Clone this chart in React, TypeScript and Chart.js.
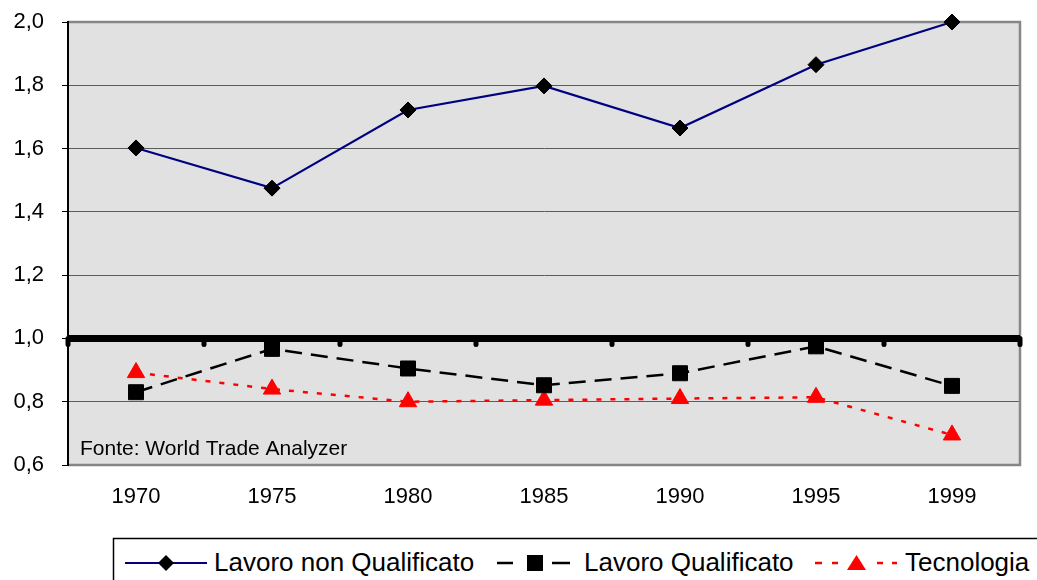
import React, { useEffect, useRef } from 'react';
import { Chart, registerables } from 'chart.js';

Chart.register(...registerables);

// ---- Data ----
const years = ['1970', '1975', '1980', '1985', '1990', '1995', '1999'];
const lavoroNonQualificato = [1.602, 1.475, 1.722, 1.798, 1.665, 1.865, 2.0];
const lavoroQualificato = [0.83, 0.967, 0.905, 0.852, 0.89, 0.975, 0.85];
const tecnologia = [0.892, 0.84, 0.8, 0.805, 0.81, 0.814, 0.695];
const seriesNames = ['Lavoro non Qualificato', 'Lavoro Qualificato', 'Tecnologia'];
const yMin = 0.6;
const yMax = 2.0;
const yStep = 0.2;
const referenceValue = 1.0;
const sourceNote = 'Fonte: World Trade Analyzer';

const FONT = '"Liberation Sans", Arial, Helvetica, sans-serif';
const W = 1037;
const H = 580;

const near = (a: number, b: number) => Math.abs(a - b) < 1e-6;

const decorPlugin = {
  id: 'plotDecor',
  beforeDraw(chart: any) {
    const { ctx, chartArea } = chart;
    const { left, top, right, bottom } = chartArea;
    ctx.save();
    ctx.fillStyle = '#e1e1e1';
    ctx.fillRect(left, top, right - left, bottom - top);
    ctx.restore();
  },
  beforeDatasetsDraw(chart: any) {
    const { ctx, chartArea, scales } = chart;
    const { left, top, right, bottom } = chartArea;
    ctx.save();
    // gray frame (top, right, bottom)
    ctx.strokeStyle = '#868686';
    ctx.lineWidth = 2.5;
    ctx.beginPath();
    ctx.moveTo(left, top);
    ctx.lineTo(right, top);
    ctx.lineTo(right, bottom);
    ctx.lineTo(left, bottom);
    ctx.stroke();
    // left axis
    ctx.strokeStyle = '#000';
    ctx.lineWidth = 2;
    ctx.beginPath();
    ctx.moveTo(left, top - 1);
    ctx.lineTo(left, bottom + 1);
    ctx.stroke();

    // reference line (category axis crossing at 1.0)
    const y = scales.y.getPixelForValue(referenceValue);
    const xs = scales.x;
    const n = years.length;
    const bounds: number[] = [left];
    for (let i = 0; i < n - 1; i++) {
      bounds.push((xs.getPixelForValue(i) + xs.getPixelForValue(i + 1)) / 2);
    }
    bounds.push(right);
    ctx.strokeStyle = '#000';
    ctx.lineCap = 'round';
    ctx.lineWidth = 5;
    bounds.forEach((bx) => {
      ctx.beginPath();
      ctx.moveTo(bx, y);
      ctx.lineTo(bx, y + 6);
      ctx.stroke();
    });
    ctx.lineCap = 'butt';
    ctx.lineWidth = 7;
    ctx.beginPath();
    ctx.moveTo(left, y);
    ctx.lineTo(right, y);
    ctx.stroke();

    // source note
    ctx.fillStyle = '#000';
    ctx.font = `21px ${FONT}`;
    ctx.textBaseline = 'alphabetic';
    ctx.textAlign = 'left';
    ctx.fillText(sourceNote, left + 12, bottom - 10);
    ctx.restore();
  },
};

function Legend() {
  const cy = 563;
  const textY = 571;
  const fontStyle = { fontFamily: FONT, fontSize: 26 } as any;
  return (
    <svg
      width={W}
      height={H}
      style={{ position: 'absolute', left: 0, top: 0, pointerEvents: 'none' }}
    >
      <rect x={113.5} y={538.5} width={1000} height={100} fill="#fff" stroke="#000" strokeWidth={1.5} />
      {/* series 1 */}
      <line x1={125} y1={cy} x2={207} y2={cy} stroke="#000080" strokeWidth={2} />
      <polygon points={`${166 - 8},${cy} ${166},${cy - 8} ${166 + 8},${cy} ${166},${cy + 8}`} fill="#000" />
      <text x={214} y={textY} {...fontStyle} fill="#000">{seriesNames[0]}</text>
      {/* series 2 */}
      <line x1={497} y1={cy} x2={513} y2={cy} stroke="#000" strokeWidth={2.5} />
      <line x1={552} y1={cy} x2={570} y2={cy} stroke="#000" strokeWidth={2.5} />
      <rect x={527} y={cy - 8} width={16} height={16} fill="#000" />
      <text x={584} y={textY} {...fontStyle} fill="#000">{seriesNames[1]}</text>
      {/* series 3 */}
      <line x1={815} y1={cy} x2={822} y2={cy} stroke="#ff0000" strokeWidth={2.5} />
      <line x1={832} y1={cy} x2={838} y2={cy} stroke="#ff0000" strokeWidth={2.5} />
      <line x1={877} y1={cy} x2={883} y2={cy} stroke="#ff0000" strokeWidth={2.5} />
      <line x1={892} y1={cy} x2={897} y2={cy} stroke="#ff0000" strokeWidth={2.5} />
      <polygon points={`${847},${cy + 7} ${856.5},${cy - 8} ${866},${cy + 7}`} fill="#ff0000" />
      <text x={905} y={textY} {...fontStyle} fill="#000">{seriesNames[2]}</text>
    </svg>
  );
}

export default function App() {
  const canvasRef = useRef<HTMLCanvasElement | null>(null);

  useEffect(() => {
    if (!canvasRef.current) return;
    const chart = new Chart(canvasRef.current, {
      type: 'line',
      data: {
        labels: years,
        datasets: [
          {
            label: seriesNames[0],
            data: lavoroNonQualificato,
            borderColor: '#000080',
            borderWidth: 2.2,
            pointStyle: 'rectRot',
            pointRadius: 8,
            pointBackgroundColor: '#000',
            pointBorderColor: '#000',
            pointBorderWidth: 1,
            tension: 0,
            clip: false as any,
          },
          {
            label: seriesNames[1],
            data: lavoroQualificato,
            borderColor: '#000',
            borderWidth: 2.5,
            borderDash: [17, 9],
            pointStyle: 'rect',
            pointRadius: 10.6,
            pointBackgroundColor: '#000',
            pointBorderColor: '#000',
            pointBorderWidth: 1,
            tension: 0,
            clip: false as any,
          },
          {
            label: seriesNames[2],
            data: tecnologia,
            borderColor: '#ff0000',
            borderWidth: 2.5,
            borderDash: [5, 9],
            pointStyle: 'triangle',
            pointRadius: 10,
            pointBackgroundColor: '#ff0000',
            pointBorderColor: '#ff0000',
            pointBorderWidth: 1,
            tension: 0,
            clip: false as any,
          },
        ],
      },
      options: {
        responsive: false,
        animation: false,
        events: [],
        layout: { padding: { left: 0, right: 17, top: 22, bottom: 0 } },
        plugins: {
          legend: { display: false },
          tooltip: { enabled: false },
          title: { display: false },
        },
        scales: {
          x: {
            type: 'category',
            offset: true,
            grid: { display: false, drawTicks: false },
            border: { display: false },
            ticks: {
              color: '#000',
              font: { family: FONT, size: 22 },
              padding: 19,
              maxRotation: 0,
            },
            afterFit: (scale: any) => {
              scale.height = 115;
              scale.paddingLeft = 0;
              scale.paddingRight = 0;
            },
          },
          y: {
            min: yMin,
            max: yMax,
            ticks: {
              stepSize: yStep,
              color: '#000',
              font: { family: FONT, size: 22 },
              padding: 18,
              callback: (v: any) => Number(v).toFixed(1).replace('.', ','),
            },
            grid: {
              color: (c: any) => {
                const v = c.tick ? c.tick.value : NaN;
                if (near(v, yMin) || near(v, yMax) || near(v, referenceValue)) return 'rgba(0,0,0,0)';
                return '#5c5c5c';
              },
              tickColor: '#000',
              tickLength: 6,
              lineWidth: 1,
            },
            border: { display: true, color: '#000', width: 2 },
            afterFit: (scale: any) => {
              scale.width = 68;
              scale.paddingTop = 0;
              scale.paddingBottom = 0;
            },
          },
        },
      },
      plugins: [decorPlugin],
    });
    return () => chart.destroy();
  }, []);

  return (
    <div style={{ position: 'absolute', left: 0, top: 0, width: W, height: H, background: '#fff', overflow: 'hidden' }}>
      <canvas ref={canvasRef} width={W} height={H} style={{ position: 'absolute', left: 0, top: 0 }} />
      <Legend />
    </div>
  );
}
